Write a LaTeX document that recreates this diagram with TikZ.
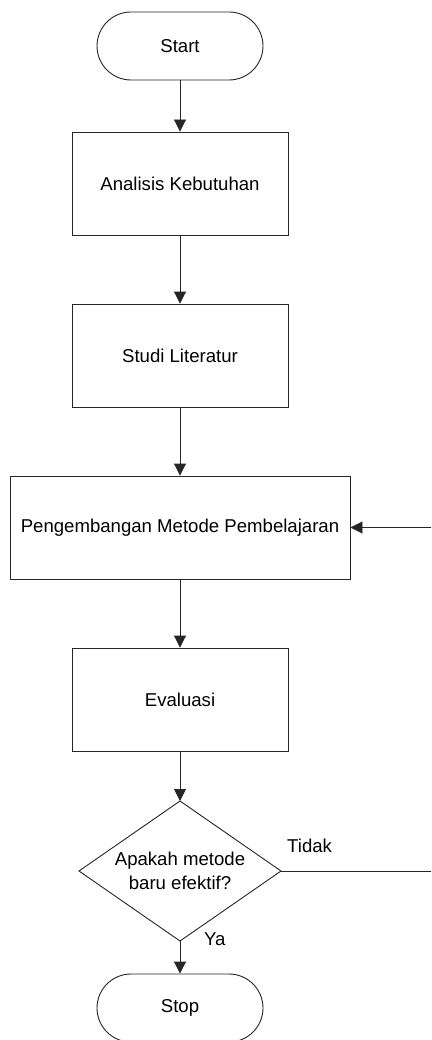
\documentclass[tikz,border=0pt]{standalone}
\usepackage{fontspec}
\setmainfont{Liberation Sans}
\usetikzlibrary{arrows.meta,shapes.geometric}
\begin{document}
\begin{tikzpicture}[x=1pt,y=-1pt,
  every node/.style={font=\fontsize{18.6}{24}\selectfont},
  line/.style={draw=black!85, line width=0.9pt},
  terminal/.style={line, rectangle, rounded corners=34pt, minimum width=166pt, minimum height=68pt, inner sep=2pt},
  process/.style={line, rectangle, minimum width=216pt, minimum height=103pt, inner sep=2pt},
  decision/.style={line, diamond, minimum width=202pt, minimum height=140pt, inner sep=0pt, outer sep=0pt},
  flow/.style={line, -{Triangle[length=12pt,width=12pt]}}]
\clip (0,0) rectangle (431,1040);
\fill[white] (0,0) rectangle (431,1040);
\node[terminal] (start) at (180,46) {Start};
\node[process] (analisis) at (180,183.5) {Analisis Kebutuhan};
\node[process] (studi) at (180,355.5) {Studi Literatur};
\node[process, minimum width=340pt] (pengembangan) at (180,527.5) {Pengembangan Metode Pembelajaran};
\node[process] (evaluasi) at (180,699.5) {Evaluasi};
\node[decision] (keputusan) at (180,871) {\makebox[0pt]{\smash{\raisebox{-6.5pt}{\begin{tabular}{@{}c@{}}Apakah metode\\baru efektif?\end{tabular}}}}};
\node[terminal] (stop) at (180,1008) {Stop};
\coordinate (kanan1) at (432,871);
\coordinate (kanan2) at (432,527.5);
\draw[flow] (start) -- (analisis);
\draw[flow] (analisis) -- (studi);
\draw[flow] (studi) -- (pengembangan);
\draw[flow] (pengembangan) -- (evaluasi);
\draw[flow] (evaluasi) -- (keputusan);
\draw[flow] (keputusan) -- (stop);
\draw[line] (keputusan.east) -- (kanan1);
\draw[flow] (kanan2) -- (pengembangan.east);
\node[anchor=base west, inner sep=0pt] (tidak) at (287,852) {Tidak};
\node[anchor=base west, inner sep=0pt] (ya) at (204,945) {Ya};
\end{tikzpicture}
\end{document}
